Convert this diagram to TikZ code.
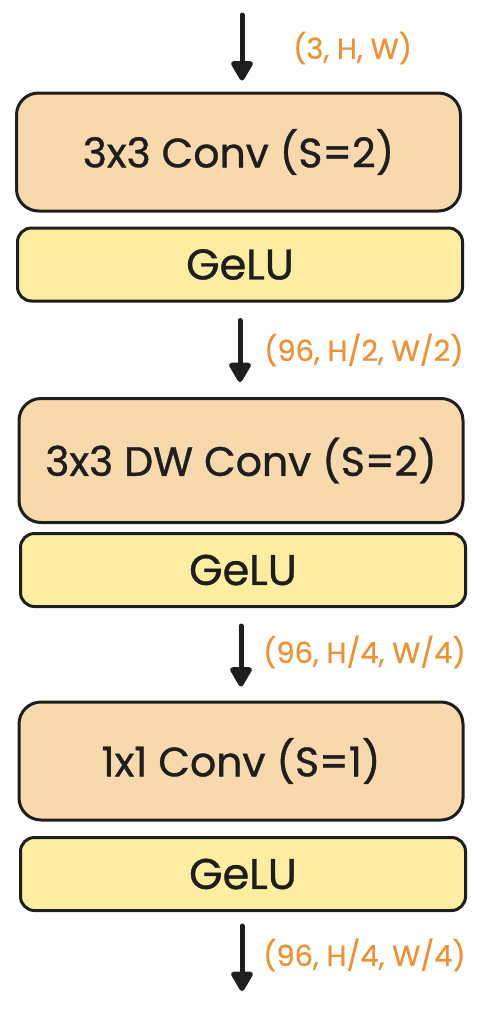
\documentclass[tikz,border=0pt]{standalone}
\usepackage{fontspec}
\setmainfont{Poppins}
\newfontfamily\boxfont{Poppins}[FakeBold=0.9]
\newfontfamily\dimfont{Poppins}[FakeBold=0.6]
\usetikzlibrary{arrows.meta, positioning, calc}
\definecolor{ink}{RGB}{30, 30, 30}
\definecolor{convfill}{RGB}{248, 216, 173}
\definecolor{actfill}{RGB}{253, 237, 160}
\definecolor{dimcol}{RGB}{232, 146, 58}
\tikzset{
    convnode/.style = {draw=ink, fill=convfill, rectangle, rounded corners=22pt, line width=3pt,
      minimum width=444pt, minimum height=118pt, inner sep=0pt, font=\boxfont\fontsize{41}{48}\selectfont, text=ink},
    actnode/.style = {draw=ink, fill=actfill, rectangle, rounded corners=14pt, line width=3pt,
      minimum width=445pt, minimum height=73pt, inner sep=0pt, font=\boxfont\fontsize{43}{50}\selectfont, text=ink},
    dimnode/.style = {draw=none, fill=none, anchor=west, inner sep=0pt, text=dimcol,
      font=\dimfont\fontsize{29}{34}\selectfont},
    flow/.style = {draw=ink, line width=5pt, line cap=round,
      -{Triangle[width=24pt, length=22pt, round]}}
}

\begin{document}
\begin{tikzpicture}[x=1pt, y=-1pt]
    \useasboundingbox (0,0) rectangle (484,1020);

    \coordinate (in) at (242,15);
    \node [convnode, name=conv1] at (238.5,152) {3x3 Conv (S=2)};
    \node [actnode, name=act1] at (240,264.5) {GeLU};

    \node [convnode, name=conv2, minimum height=124pt] at (241,460.5) {3x3 DW Conv (S=2)};
    \node [actnode, name=act2] at (243,570) {GeLU};

    \node [convnode, name=conv3] at (241,761) {1x1 Conv (S=1)};
    \node [actnode, name=act3] at (243,874) {GeLU};
    \coordinate (out) at (242,991);

    % arrows between the blocks
    \draw [flow, shorten >=11pt] (in) -- (in |- conv1.north);
    \draw [flow, shorten <=18pt, shorten >=15pt] (act1.south) -- (act1.south |- conv2.north);
    \draw [flow, shorten <=18pt, shorten >=14pt] (act2.south -| conv3.north) -- (conv3.north);
    \draw [flow, shorten <=14pt] (act3.south -| out) -- (out);

    % tensor shapes
    \node [dimnode, name=dim1] at (293,48) {(3, H, W)};
    \node [dimnode, name=dim2] at (264,350) {(96, H/2, W/2)};
    \node [dimnode, name=dim3] at (263,652) {(96, H/4, W/4)};
    \node [dimnode, name=dim4] at (263,955) {(96, H/4, W/4)};
\end{tikzpicture}
\end{document}
